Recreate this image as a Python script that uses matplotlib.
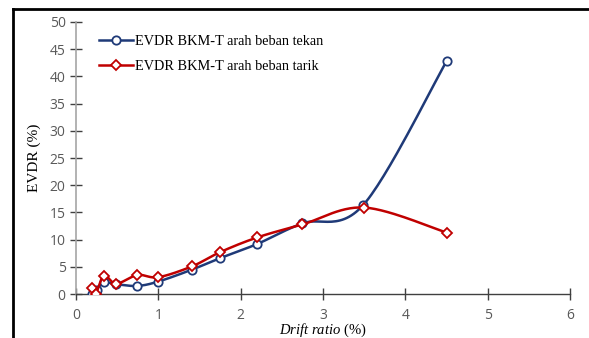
import numpy as np
import matplotlib
matplotlib.use("Agg")
import matplotlib.pyplot as plt
from matplotlib.lines import Line2D

# data
drift_tekan = [0.19, 0.25, 0.34, 0.49, 0.745, 1.0, 1.41, 1.75, 2.2, 2.75, 3.49, 4.5]
evdr_tekan = [0.1, 0.8, 2.15, 1.8, 1.5, 2.3, 4.5, 6.6, 9.2, 13.0, 16.4, 42.8]
drift_tarik = [0.19, 0.24, 0.34, 0.49, 0.745, 1.0, 1.41, 1.75, 2.2, 2.75, 3.5, 4.5]
evdr_tarik = [1.2, 0.1, 3.4, 1.9, 3.5, 3.1, 5.1, 7.7, 10.4, 12.8, 15.9, 11.3]

x_ticks = [0, 1, 2, 3, 4, 5, 6]
y_ticks = [0, 5, 10, 15, 20, 25, 30, 35, 40, 45, 50]
label_tekan = "EVDR BKM-T arah beban tekan"
label_tarik = "EVDR BKM-T arah beban tarik"

BLUE = "#1F3A78"
RED = "#C00000"


def smooth(xs, ys, n=30):
    # Excel-like smoothed line: Catmull-Rom style cubic bezier segments
    p = np.column_stack([xs, ys]).astype(float)
    out = [p[0]]
    for i in range(len(p) - 1):
        p0 = p[i - 1] if i > 0 else p[i]
        p1, p2 = p[i], p[i + 1]
        p3 = p[i + 2] if i + 2 < len(p) else p[i + 1]
        c1 = p1 + (p2 - p0) / 6.0
        c2 = p2 - (p3 - p1) / 6.0
        t = np.linspace(0, 1, n)[1:, None]
        seg = ((1 - t) ** 3) * p1 + 3 * ((1 - t) ** 2) * t * c1 + 3 * (1 - t) * t ** 2 * c2 + t ** 3 * p2
        out.extend(seg)
    out = np.array(out)
    return out[:, 0], out[:, 1]


plt.rcParams["mathtext.fontset"] = "custom"
plt.rcParams["mathtext.it"] = "Liberation Serif:italic"
plt.rcParams["mathtext.rm"] = "Liberation Serif"

fig = plt.figure(figsize=(5.89, 3.38), dpi=100)
ax = fig.add_axes([0.129, 0.130, 0.839, 0.805])

sx, sy = smooth(drift_tekan, evdr_tekan)
ax.plot(sx, sy, color=BLUE, lw=1.8, zorder=2)
ax.plot(drift_tekan, evdr_tekan, ls="none", marker="o", ms=6, mfc="white",
        mec=BLUE, mew=1.3, zorder=3)
sx, sy = smooth(drift_tarik, evdr_tarik)
ax.plot(sx, sy, color=RED, lw=1.8, zorder=4)
ax.plot(drift_tarik, evdr_tarik, ls="none", marker="D", ms=5, mfc="white",
        mec=RED, mew=1.3, zorder=5)

ax.set_xlim(0, 6)
ax.set_ylim(0, 50)
ax.set_xticks(x_ticks)
ax.set_yticks(y_ticks)
for s in ["top", "right"]:
    ax.spines[s].set_visible(False)
ax.spines["left"].set_color("#A6A6A6")
ax.spines["left"].set_linewidth(1.2)
ax.spines["bottom"].set_color("#404040")
ax.spines["bottom"].set_linewidth(1.0)
ax.tick_params(axis="both", direction="inout", length=8, width=1.0,
               color="#404040", labelcolor="#595959", labelsize=10)
ax.tick_params(axis="x", pad=6)
for lbl in ax.get_xticklabels() + ax.get_yticklabels():
    lbl.set_fontfamily("Open Sans")

ax.set_ylabel("EVDR (%)", family="Liberation Serif", fontsize=11, labelpad=6)
ax.set_xlabel(r"$\mathit{Drift\ ratio}$" + " (%)", family="Liberation Serif",
              fontsize=10.5, labelpad=-1)

handles = [
    Line2D([], [], color=BLUE, lw=1.8, marker="o", ms=6, mfc="white", mec=BLUE, mew=1.3),
    Line2D([], [], color=RED, lw=1.8, marker="D", ms=5, mfc="white", mec=RED, mew=1.3),
]
ax.legend(handles, [label_tekan, label_tarik], loc="upper left",
          bbox_to_anchor=(0.02, 1.0), frameon=False, handlelength=2.4,
          handletextpad=0.1, labelspacing=0.85,
          prop={"family": "Liberation Serif", "size": 10.3})

# outer frame lines (top and left edge of the figure box)
fig.add_artist(Line2D([13 / 589, 1], [1 - 9 / 338, 1 - 9 / 338], color="black", lw=2,
                      transform=fig.transFigure))
fig.add_artist(Line2D([13 / 589, 13 / 589], [0, 1 - 9 / 338], color="black", lw=2,
                      transform=fig.transFigure))

fig.savefig("out.png", dpi=100)
